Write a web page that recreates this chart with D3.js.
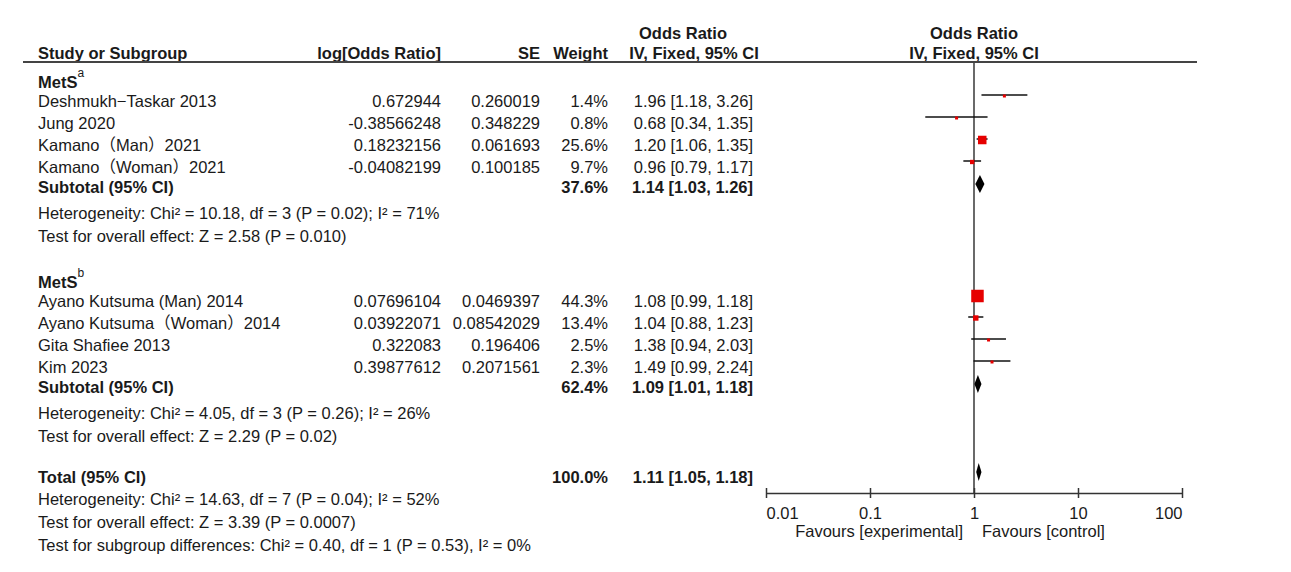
<!DOCTYPE html>
<html>
<head>
<meta charset="utf-8">
<script src="https://cdn.jsdelivr.net/npm/d3@7"></script>
<style>
  body { margin: 0; background: #fff; }
  text { font-family: "Liberation Sans", Arial, "Noto Sans CJK SC", sans-serif; fill: #1a1a1a; }
</style>
</head>
<body>
<div id="canvas"></div>
<script>
// values
const group1Studies = ["Deshmukh\u2212Taskar 2013", "Jung 2020", "Kamano（Man）2021", "Kamano（Woman）2021"];
const group1LogOR = [0.672944, -0.38566248, 0.18232156, -0.04082199];
const group1SE = [0.260019, 0.348229, 0.061693, 0.100185];
const group1Weight = [1.4, 0.8, 25.6, 9.7];
const group1OR = [1.96, 0.68, 1.20, 0.96];
const group1Lower = [1.18, 0.34, 1.06, 0.79];
const group1Upper = [3.26, 1.35, 1.35, 1.17];

const group2Studies = ["Ayano Kutsuma (Man) 2014", "Ayano Kutsuma（Woman）2014", "Gita Shafiee 2013", "Kim 2023"];
const group2LogOR = [0.07696104, 0.03922071, 0.322083, 0.39877612];
const group2SE = [0.0469397, 0.08542029, 0.196406, 0.2071561];
const group2Weight = [44.3, 13.4, 2.5, 2.3];
const group2OR = [1.08, 1.04, 1.38, 1.49];
const group2Lower = [0.99, 0.88, 0.94, 0.99];
const group2Upper = [1.18, 1.23, 2.03, 2.24];

const subgroupNames = ["MetS", "MetS"];
const subgroupMarks = ["a", "b"];
const subtotalWeight = [37.6, 62.4];
const subtotalOR = [1.14, 1.09];
const subtotalLower = [1.03, 1.01];
const subtotalUpper = [1.26, 1.18];
const subgroupHeterogeneity = [
  "Heterogeneity: Chi² = 10.18, df = 3 (P = 0.02); I² = 71%",
  "Heterogeneity: Chi² = 4.05, df = 3 (P = 0.26); I² = 26%"
];
const subgroupOverall = [
  "Test for overall effect: Z = 2.58 (P = 0.010)",
  "Test for overall effect: Z = 2.29 (P = 0.02)"
];

const totalWeight = 100.0;
const totalOR = 1.11;
const totalLower = 1.05;
const totalUpper = 1.18;
const totalNotes = [
  "Heterogeneity: Chi² = 14.63, df = 7 (P = 0.04); I² = 52%",
  "Test for overall effect: Z = 3.39 (P = 0.0007)",
  "Test for subgroup differences: Chi² = 0.40, df = 1 (P = 0.53), I² = 0%"
];

const axisTicks = [0.01, 0.1, 1, 10, 100];
const favourLabels = ["Favours [experimental]", "Favours [control]"];

const groups = [
  { studies: group1Studies, logOR: group1LogOR, se: group1SE, weight: group1Weight, or: group1OR, lo: group1Lower, hi: group1Upper },
  { studies: group2Studies, logOR: group2LogOR, se: group2SE, weight: group2Weight, or: group2OR, lo: group2Lower, hi: group2Upper }
];

const width = 1291;
const height = 572;
const fs = 16.5;
const col = { study: 38, logOR: 441, se: 540, weight: 608, ci: 753 };
const rowStep = 22;
const groupStep = 200;

const svg = d3.select("#canvas").append("svg")
  .attr("width", width)
  .attr("height", height);

const x = d3.scaleLog().domain([0.01, 100]).range([766, 1182]);
const boxSize = d3.scalePow().exponent(0.7).domain([0, 44.3]).range([0, 12.5]);

const ciText = (o, l, h) => `${o.toFixed(2)} [${l.toFixed(2)}, ${h.toFixed(2)}]`;

function label(txt, px, py, anchor, bold, size) {
  return svg.append("text")
    .attr("x", px)
    .attr("y", py)
    .attr("text-anchor", anchor || "start")
    .style("font-size", (size || fs) + "px")
    .style("font-weight", bold ? "bold" : "normal")
    .text(txt);
}

function diamond(o, l, h, cy) {
  const hh = 9;
  svg.append("path")
    .attr("d", `M${x(l)},${cy} L${x(o)},${cy - hh} L${x(h)},${cy} L${x(o)},${cy + hh} Z`)
    .attr("fill", "#000");
}

// header
label("Odds Ratio", 683, 39, "middle", true);
label("IV, Fixed, 95% CI", 694, 59, "middle", true);
label("Odds Ratio", x(1), 39, "middle", true);
label("IV, Fixed, 95% CI", x(1), 59, "middle", true);
label("Study or Subgroup", col.study, 59, "start", true);
label("log[Odds Ratio]", col.logOR, 59, "end", true);
label("SE", col.se, 59, "end", true);
label("Weight", col.weight, 59, "end", true);

svg.append("line")
  .attr("x1", 23).attr("x2", 1197)
  .attr("y1", 62).attr("y2", 62)
  .attr("stroke", "#444").attr("stroke-width", 2);

// line of no effect
svg.append("line")
  .attr("x1", x(1)).attr("x2", x(1))
  .attr("y1", 62).attr("y2", 493)
  .attr("stroke", "#444").attr("stroke-width", 1.6);

groups.forEach((g, gi) => {
  const top = gi * groupStep;

  const head = label(subgroupNames[gi], col.study, 88 + top, "start", true);
  head.append("tspan")
    .attr("dy", -11)
    .style("font-size", "12px")
    .style("font-weight", "normal")
    .text(subgroupMarks[gi]);

  g.studies.forEach((name, i) => {
    const by = 107 + top + i * rowStep;
    label(name, col.study, by);
    label(String(g.logOR[i]), col.logOR, by, "end");
    label(String(g.se[i]), col.se, by, "end");
    label(g.weight[i].toFixed(1) + "%", col.weight, by, "end");
    label(ciText(g.or[i], g.lo[i], g.hi[i]), col.ci, by, "end");

    const ly = by - 12;
    svg.append("line")
      .attr("x1", x(g.lo[i])).attr("x2", x(g.hi[i]))
      .attr("y1", ly).attr("y2", ly)
      .attr("stroke", "#111").attr("stroke-width", 1.5);
    const s = Math.max(3, boxSize(g.weight[i]));
    svg.append("rect")
      .attr("x", x(g.or[i]) - s / 2)
      .attr("y", ly + 1 - s / 2)
      .attr("width", s).attr("height", s)
      .attr("fill", "#e60000");
  });

  const sy = 193 + top;
  label("Subtotal (95% CI)", col.study, sy, "start", true);
  label(subtotalWeight[gi].toFixed(1) + "%", col.weight, sy, "end", true);
  label(ciText(subtotalOR[gi], subtotalLower[gi], subtotalUpper[gi]), col.ci, sy, "end", true);
  diamond(subtotalOR[gi], subtotalLower[gi], subtotalUpper[gi], sy - 9);

  label(subgroupHeterogeneity[gi], col.study, 219 + top);
  label(subgroupOverall[gi], col.study, 242 + top);
});

// overall
label("Total (95% CI)", col.study, 483, "start", true);
label(totalWeight.toFixed(1) + "%", col.weight, 483, "end", true);
label(ciText(totalOR, totalLower, totalUpper), col.ci, 483, "end", true);
diamond(totalOR, totalLower, totalUpper, 472);
totalNotes.forEach((t, i) => label(t, col.study, 505 + i * 23));

// axis
const axisY = 493;
const axis = svg.append("g")
  .attr("transform", `translate(0,${axisY})`)
  .call(d3.axisBottom(x).tickValues(axisTicks).tickFormat(d => String(d)).tickSize(5).tickSizeOuter(0));
axis.select(".domain").attr("stroke", "#333").attr("stroke-width", 1.5);
axis.selectAll(".tick line")
  .attr("y1", -5).attr("y2", 5)
  .attr("stroke", "#333").attr("stroke-width", 1.5);
axis.selectAll(".tick text")
  .attr("y", 14).attr("dy", "0.71em")
  .attr("text-anchor", (d, i, n) => i === 0 ? "start" : i === n.length - 1 ? "end" : "middle")
  .style("font-size", "16.5px");

label(favourLabels[0], x(1) - 11, 537, "end");
label(favourLabels[1], x(1) + 8, 537, "start");
</script>
</body>
</html>
